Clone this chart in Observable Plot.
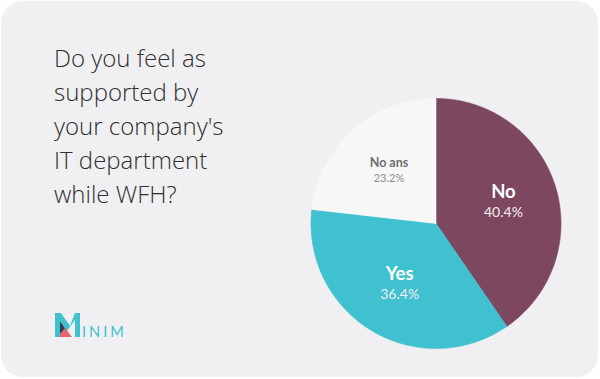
<!DOCTYPE html>
<html>
<head>
<meta charset="utf-8">
<script src="https://cdn.jsdelivr.net/npm/d3@7"></script>
<script src="https://cdn.jsdelivr.net/npm/@observablehq/plot@0.6"></script>
<style>
  html, body { margin: 0; padding: 0; background: #ffffff; width: 600px; height: 379px; overflow: hidden; }
  #card { position: absolute; left: 1px; top: 1px; width: 597px; height: 376px; background: #f0f0f2; border-radius: 22px; }
  #title { position: absolute; left: 54px; top: 41px; font-family: "Open Sans", sans-serif; font-size: 24px; line-height: 34px; color: #2f2f2f; font-weight: 300; }
  #chart { position: absolute; left: 0; top: 0; }
  #logo { position: absolute; left: 0; top: 0; }
</style>
</head>
<body>
<div id="card"></div>
<div id="title">Do you feel as<br>supported by<br>your company's<br>IT department<br>while WFH?</div>
<svg id="logo" width="140" height="350" viewBox="0 0 140 350">
  <polygon points="55,313 60,313 60,337 55,337" fill="#3fc1cf"/>
  <polygon points="55,313 61,313 70,326 67,331" fill="#3fc1cf"/>
  <polygon points="67,331 70,326 75,313 80,313" fill="#3fc1cf"/>
  <polygon points="75,313 80,313 80,337 75,337" fill="#3fc1cf"/>
  <polygon points="60,321 67,331 60,334" fill="#2d3e55"/>
  <polygon points="60,337 72,337 65,328 60,334" fill="#e5676f"/>
  <text x="82" y="337" font-family="Lato, sans-serif" font-size="14.5" letter-spacing="3" fill="#3fc1cf">INIM</text>
</svg>
<div id="chart"></div>
<script>
const categories = ["No", "Yes", "No ans"];
const shares = [40.4, 36.4, 23.2];
const shareLabels = ["40.4%", "36.4%", "23.2%"];
const sliceColors = ["#7d4760", "#3fc1cf", "#f7f7f8"];

const total = d3.sum(shares);
let acc = 0;
const slices = categories.map((c, i) => {
  const a0 = acc / total * 2 * Math.PI;
  acc += shares[i];
  const a1 = acc / total * 2 * Math.PI;
  return {c, a0, a1, label: shareLabels[i]};
});

// polygon outline of each slice (centre, arc, centre)
const outline = slices.flatMap(s => {
  const n = Math.max(2, Math.ceil((s.a1 - s.a0) / (Math.PI / 360)));
  const pts = [{c: s.c, x: 0, y: 0}];
  for (let k = 0; k <= n; k++) {
    const a = s.a0 + (s.a1 - s.a0) * k / n;
    pts.push({c: s.c, x: Math.sin(a), y: Math.cos(a)});
  }
  pts.push({c: s.c, x: 0, y: 0});
  return pts;
});

const labelR = 0.565;
const labelPos = slices.map(s => {
  const m = (s.a0 + s.a1) / 2;
  return {c: s.c, label: s.label, x: labelR * Math.sin(m), y: labelR * Math.cos(m)};
});
const dark = labelPos.filter(d => d.c !== "No ans");
const light = labelPos.filter(d => d.c === "No ans");

const chart = Plot.plot({
  width: 600,
  height: 379,
  marginLeft: 310.5,
  marginRight: 39.5,
  marginTop: 98,
  marginBottom: 31,
  x: {domain: [-1, 1], axis: null},
  y: {domain: [-1, 1], axis: null},
  color: {domain: categories, range: sliceColors},
  style: {background: "transparent", overflow: "visible"},
  marks: [
    Plot.line(outline, {x: "x", y: "y", z: "c", fill: "c", stroke: "c", strokeWidth: 0.6, curve: "linear"}),
    Plot.text(dark, {x: "x", y: "y", text: "c", dy: -10, fill: "#ffffff", fontWeight: "bold", fontSize: 18.5, fontFamily: "Lato, sans-serif"}),
    Plot.text(dark, {x: "x", y: "y", text: "label", dy: 10, fill: "#f4eef1", fontSize: 14, fontFamily: "Lato, sans-serif"}),
    Plot.text(light, {x: "x", y: "y", text: "c", dy: -8, fill: "#6e6e6e", fontWeight: "bold", fontSize: 12.5, fontFamily: "Lato, sans-serif"}),
    Plot.text(light, {x: "x", y: "y", text: "label", dy: 8, fill: "#8a8a8a", fontSize: 11, fontFamily: "Lato, sans-serif"})
  ]
});
document.getElementById("chart").appendChild(chart);
</script>
</body>
</html>
